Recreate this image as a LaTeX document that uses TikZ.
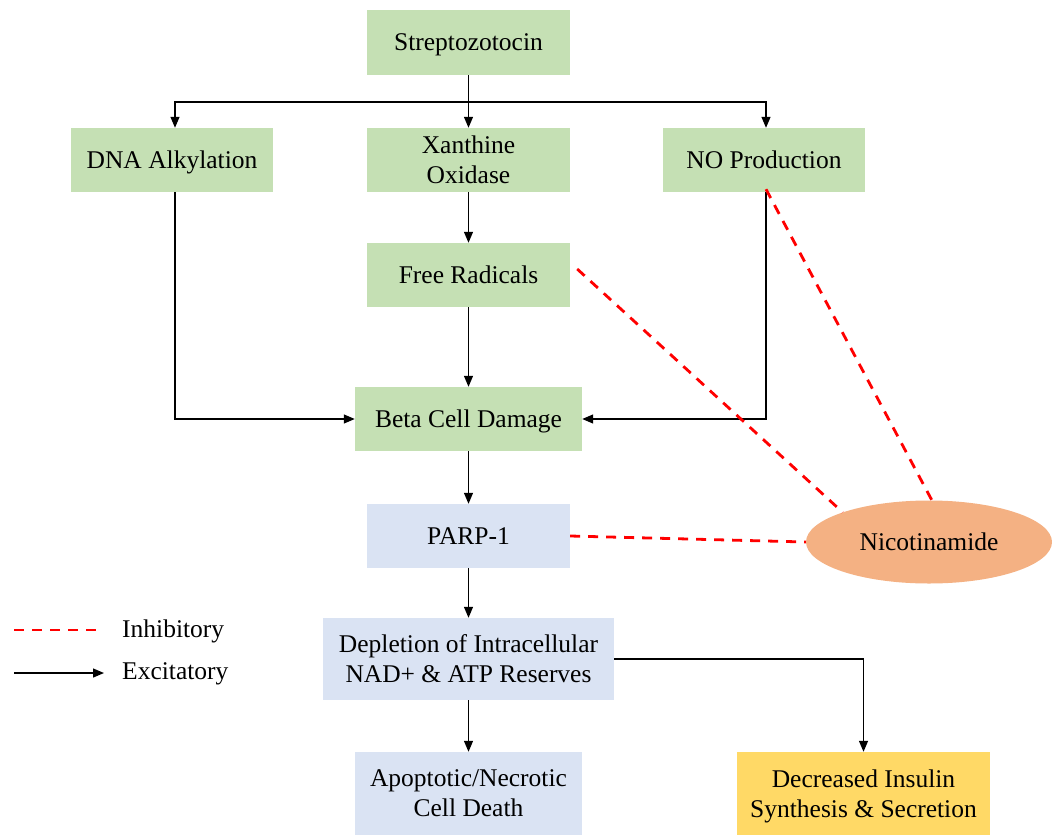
\documentclass[tikz,border=0pt]{standalone}
\usepackage{fontspec}
\setmainfont{Liberation Serif}
\usetikzlibrary{shapes.geometric,arrows.meta}
\definecolor{gbox}{HTML}{C5E0B4}
\definecolor{bbox}{HTML}{DAE3F3}
\definecolor{obox}{HTML}{F4B183}
\definecolor{ybox}{HTML}{FFD966}
\definecolor{inhred}{HTML}{FF0000}
\tikzset{
  boxnode/.style={rectangle,inner sep=0pt,align=center,text depth=0pt,font=\fontsize{25.5}{30}\selectfont},
  greenbox/.style={boxnode,fill=gbox},
  bluebox/.style={boxnode,fill=bbox},
  yellowbox/.style={boxnode,fill=ybox},
  excit/.style={draw=black,line width=1.3pt,-{Triangle[length=11pt,width=9pt]}},
  inhib/.style={draw=inhred,line width=2.8pt,dash pattern=on 10pt off 8pt},
  legtext/.style={anchor=west,inner sep=0pt,font=\fontsize{25.5}{30}\selectfont}
}
\begin{document}
\begin{tikzpicture}[x=1pt,y=-1pt]
\useasboundingbox (0,0) rectangle (1052,835);
\node[greenbox,minimum width=203,minimum height=65] (strep) at (468.5,42.5) {Streptozotocin};
\node[greenbox,minimum width=202,minimum height=64] (dna) at (172,160) {DNA Alkylation};
\node[greenbox,minimum width=203,minimum height=64] (xan) at (468.5,160) {Xanthine\\Oxidase};
\node[greenbox,minimum width=202,minimum height=64] (no) at (764,160) {NO Production};
\node[greenbox,minimum width=203,minimum height=64] (free) at (468.5,275) {Free Radicals};
\node[greenbox,minimum width=227,minimum height=64] (beta) at (468.5,419) {Beta Cell Damage};
\node[bluebox,minimum width=203,minimum height=64] (parp) at (468.5,536) {PARP-1};
\node[bluebox,minimum width=291,minimum height=82] (depl) at (468.5,659) {Depletion of Intracellular\\NAD+ \& ATP Reserves};
\node[bluebox,minimum width=227,minimum height=83] (apop) at (468.5,793.5) {Apoptotic/Necrotic\\Cell Death};
\node[yellowbox,minimum width=253,minimum height=83] (dec) at (863.5,793.5) {Decreased Insulin\\Synthesis \& Secretion};
\node[ellipse,fill=obox,inner sep=0pt,minimum width=246,minimum height=83,text depth=0pt,font=\fontsize{25.5}{30}\selectfont] (nic) at (929,542) {Nicotinamide};

\coordinate (bus) at (468.5,102);
\draw[line width=1.3pt] (strep.south) -- (bus);
\draw[excit] (bus) -| ([xshift=3pt]dna.north);
\draw[excit] (bus) -| ([xshift=2pt]no.north);
\draw[excit] (bus) -- (xan.north);
\draw[excit] (xan.south) -- (free.north);
\draw[excit] (free.south) -- (beta.north);
\draw[excit] ([xshift=3pt]dna.south) |- (beta.west);
\draw[excit] ([xshift=2pt]no.south) |- (beta.east);
\draw[excit] (beta.south) -- (parp.north);
\draw[excit] (parp.south) -- (depl.north);
\draw[excit] (depl.south) -- (apop.north);
\draw[excit] (depl.east) -| (dec.north);

\draw[inhib] (parp.east) -- (nic.west);
\draw[inhib] ([xshift=7pt,yshift=6pt]free.east) -- (nic.161);
\draw[inhib] ([xshift=2pt,yshift=3pt]no.south) -- (nic.86);

\coordinate (l1a) at (14,630);
\coordinate (l1b) at (100,630);
\coordinate (l2a) at (14,673);
\coordinate (l2b) at (104,673);
\draw[inhib] (l1a) -- (l1b);
\draw[excit] (l2a) -- (l2b);
\node[legtext] (inhl) at (122,631) {Inhibitory};
\node[legtext] (excl) at (122,674) {Excitatory};
\end{tikzpicture}
\end{document}
